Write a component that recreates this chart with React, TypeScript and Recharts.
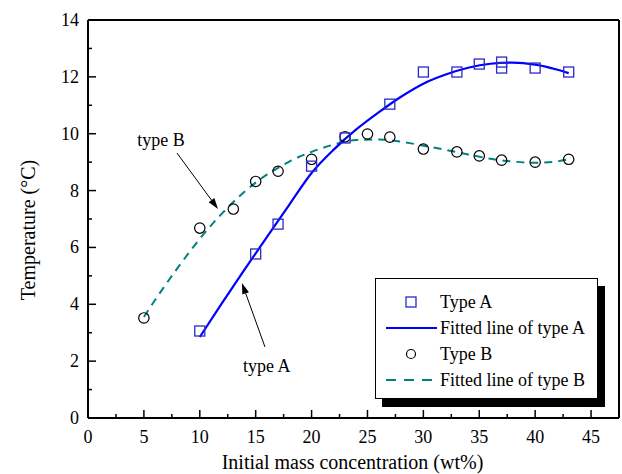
import { ComposedChart, Line, Scatter, XAxis, YAxis, ReferenceLine, ReferenceDot, Legend } from 'recharts'

const serif = '"Liberation Serif", "Times New Roman", serif'

// measured points
const typeAX = [10, 15, 17, 20, 23, 27, 30, 33, 35, 37, 37, 40, 43]
const typeAY = [3.06, 5.77, 6.82, 8.86, 9.85, 11.04, 12.17, 12.17, 12.45, 12.52, 12.31, 12.31, 12.17]
const typeBX = [5, 10, 13, 15, 17, 20, 23, 25, 27, 30, 33, 35, 37, 40, 43]
const typeBY = [3.52, 6.68, 7.35, 8.32, 8.68, 9.1, 9.89, 9.99, 9.88, 9.46, 9.36, 9.22, 9.07, 9.0, 9.1]

// fitted curves
const fitAX = [10, 12, 14, 16, 18, 20, 22, 24, 26, 28, 30, 32, 34, 36, 38, 40, 42, 43]
const fitAY = [2.85, 4.05, 5.22, 6.36, 7.5, 8.62, 9.45, 10.15, 10.75, 11.3, 11.76, 12.08, 12.32, 12.46, 12.5, 12.43, 12.25, 12.13]
const fitBX = [5, 6, 7, 8, 9, 10, 11, 12, 13, 14, 15, 16, 17, 18, 20, 22, 24, 26, 28, 30, 32, 34, 36, 38, 40, 42, 43]
const fitBY = [3.55, 4.15, 4.72, 5.27, 5.8, 6.3, 6.77, 7.2, 7.6, 7.96, 8.28, 8.56, 8.8, 9.02, 9.36, 9.62, 9.78, 9.8, 9.72, 9.58, 9.43, 9.27, 9.12, 9.02, 8.98, 9.03, 9.1]

const xTicks = [0, 2.5, 5, 7.5, 10, 12.5, 15, 17.5, 20, 22.5, 25, 27.5, 30, 32.5, 35, 37.5, 40, 42.5, 45]
const yTicks = [0, 1, 2, 3, 4, 5, 6, 7, 8, 9, 10, 11, 12, 13, 14]

const zip = (xs: number[], ys: number[]) => xs.map((x, i) => ({ x, y: ys[i] }))
const typeA = zip(typeAX, typeAY)
const typeB = zip(typeBX, typeBY)
const fitA = zip(fitAX, fitAY)
const fitB = zip(fitBX, fitBY)

const isMajorX = (v: number) => v % 5 === 0
const isMajorY = (v: number) => v % 2 === 0

const BottomTick = ({ x, y, payload }: any) => {
  const major = isMajorX(payload.value)
  return (
    <g>
      <line x1={x} x2={x} y1={y} y2={y - (major ? 8 : 4)} stroke="#000" strokeWidth={1.5} />
      {major && (
        <text x={x} y={y + 25} textAnchor="middle" fontSize={18} fontFamily={serif} fill="#000">
          {payload.value}
        </text>
      )}
    </g>
  )
}

const TopTick = ({ x, y, payload }: any) => (
  <line x1={x} x2={x} y1={y} y2={y + (isMajorX(payload.value) ? 8 : 4)} stroke="#000" strokeWidth={1.5} />
)

const LeftTick = ({ x, y, payload }: any) => {
  const major = isMajorY(payload.value)
  return (
    <g>
      <line x1={x} x2={x + (major ? 8 : 4)} y1={y} y2={y} stroke="#000" strokeWidth={1.5} />
      {major && (
        <text x={x - 9} y={y + 6} textAnchor="end" fontSize={18} fontFamily={serif} fill="#000">
          {payload.value}
        </text>
      )}
    </g>
  )
}

const RightTick = ({ x, y, payload }: any) => (
  <line x1={x} x2={x - (isMajorY(payload.value) ? 8 : 4)} y1={y} y2={y} stroke="#000" strokeWidth={1.5} />
)

const Square = ({ cx, cy }: any) => (
  <rect x={cx - 5} y={cy - 5} width={10} height={10} fill="none" stroke="#2a2ac8" strokeWidth={1.3} />
)
const Circle = ({ cx, cy }: any) => (
  <circle cx={cx} cy={cy} r={5.2} fill="none" stroke="#000" strokeWidth={1.2} />
)

const Arrow = ({ x1, y1, x2, y2 }: any) => {
  const a = Math.atan2(y2 - y1, x2 - x1)
  const len = 11
  const w = 3.5
  const bx = x2 - len * Math.cos(a)
  const by = y2 - len * Math.sin(a)
  const pts = `${x2},${y2} ${bx + w * Math.sin(a)},${by - w * Math.cos(a)} ${bx - w * Math.sin(a)},${by + w * Math.cos(a)}`
  return (
    <g>
      <line x1={x1} y1={y1} x2={bx} y2={by} stroke="#000" strokeWidth={1} />
      <polygon points={pts} fill="#000" />
    </g>
  )
}

const LegendBox = () => {
  const row = { display: 'flex', alignItems: 'center', height: 26 }
  const sym = { width: 54, height: 26 }
  const txt = { fontSize: 18, fontFamily: serif, color: '#000', whiteSpace: 'nowrap' as const }
  return (
    <div style={{ width: 223, height: 121, boxSizing: 'border-box', border: '1px solid #000', background: '#fff', boxShadow: '7px 8px 0 #000', padding: '10px 0 0 10px' }}>
      <div style={row}>
        <svg style={sym}><rect x={20} y={8} width={10} height={10} fill="none" stroke="#2a2ac8" strokeWidth={1.3} /></svg>
        <span style={txt}>Type A</span>
      </div>
      <div style={row}>
        <svg style={sym}><line x1={0} x2={51} y1={13} y2={13} stroke="#0000ff" strokeWidth={2} /></svg>
        <span style={txt}>Fitted line of type A</span>
      </div>
      <div style={row}>
        <svg style={sym}><circle cx={25} cy={13} r={4.5} fill="none" stroke="#000" strokeWidth={1.2} /></svg>
        <span style={txt}>Type B</span>
      </div>
      <div style={row}>
        <svg style={sym}><line x1={0} x2={51} y1={13} y2={13} stroke="#008080" strokeWidth={2} strokeDasharray="10 8" /></svg>
        <span style={txt}>Fitted line of type B</span>
      </div>
    </div>
  )
}

export default function App() {
  return (
    <div style={{ position: 'absolute', left: 0, top: 0, width: 622, height: 474, background: '#fff' }}>
      <ComposedChart width={622} height={474} margin={{ top: 19, right: 2, bottom: 0, left: 0 }}>
        <XAxis
          xAxisId={0}
          type="number"
          dataKey="x"
          domain={[0, 47.5]}
          ticks={xTicks}
          interval={0}
          height={56}
          tickSize={0}
          tickMargin={0}
          tickLine={false}
          tick={BottomTick}
          axisLine={{ stroke: '#000', strokeWidth: 2 }}
          label={({ viewBox }: any) => (
            <text x={viewBox.x + viewBox.width / 2 - 1} y={viewBox.y + 51} textAnchor="middle" fontSize={20} fontFamily={serif} fill="#000">
              Initial mass concentration (wt%)
            </text>
          )}
        />
        <XAxis
          xAxisId="top"
          orientation="top"
          type="number"
          dataKey="x"
          domain={[0, 47.5]}
          ticks={xTicks}
          interval={0}
          height={1}
          tickSize={0}
          tickMargin={0}
          tickLine={false}
          tick={TopTick}
          axisLine={{ stroke: '#000', strokeWidth: 2 }}
        />
        <YAxis
          yAxisId={0}
          type="number"
          domain={[0, 14]}
          ticks={yTicks}
          interval={0}
          width={88}
          tickSize={0}
          tickMargin={0}
          tickLine={false}
          tick={LeftTick}
          axisLine={{ stroke: '#000', strokeWidth: 2 }}
          label={() => (
            <text x={28} y={230} transform="rotate(-90, 28, 230)" textAnchor="middle" dominantBaseline="central" fontSize={20} fontFamily={serif} fill="#000">
              Temperature (°C)
            </text>
          )}
        />
        <YAxis
          yAxisId="right"
          orientation="right"
          type="number"
          domain={[0, 14]}
          ticks={yTicks}
          interval={0}
          width={1}
          tickSize={0}
          tickMargin={0}
          tickLine={false}
          tick={RightTick}
          axisLine={{ stroke: '#000', strokeWidth: 2 }}
        />

        <Line data={fitB} dataKey="y" type="monotone" stroke="#008080" strokeWidth={2} strokeDasharray="8 6" dot={false} isAnimationActive={false} legendType="none" />
        <Line data={fitA} dataKey="y" type="monotone" stroke="#0000ff" strokeWidth={2.2} dot={false} isAnimationActive={false} legendType="none" />
        <Scatter data={typeB} dataKey="y" shape={Circle} isAnimationActive={false} />
        <Scatter data={typeA} dataKey="y" shape={Square} isAnimationActive={false} />

        <ReferenceLine segment={[{ x: 7.96, y: 9.32 }, { x: 11.63, y: 7.35 }]} shape={Arrow} />
        <ReferenceLine segment={[{ x: 15.83, y: 2.5 }, { x: 13.77, y: 4.75 }]} shape={Arrow} />
        <ReferenceDot x={6.53} y={9.78} r={0} fill="none" stroke="none" label={{ value: 'type B', position: 'center', fontSize: 18, fontFamily: serif, fill: '#000' }} />
        <ReferenceDot x={16.0} y={1.86} r={0} fill="none" stroke="none" label={{ value: 'type A', position: 'center', fontSize: 18, fontFamily: serif, fill: '#000' }} />

        <Legend
          layout="vertical"
          align="center"
          verticalAlign="middle"
          content={LegendBox}
          wrapperStyle={{ position: 'absolute', left: 375, top: 278, width: 223, height: 121 }}
        />
      </ComposedChart>
    </div>
  )
}
